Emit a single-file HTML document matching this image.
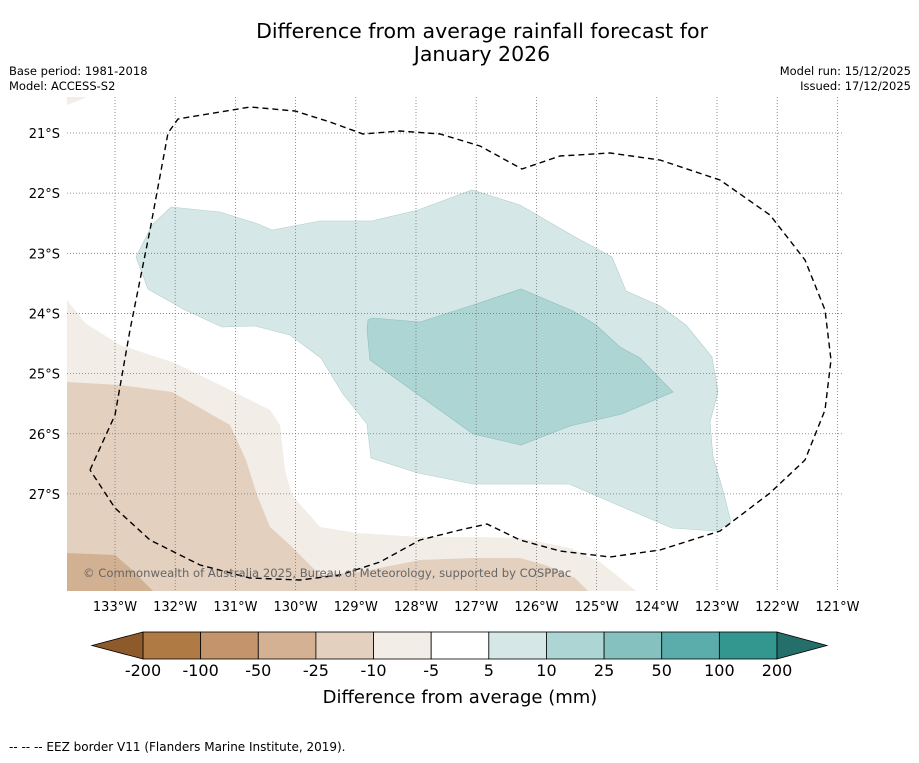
<!DOCTYPE html>
<html><head><meta charset="utf-8"><style>
body{margin:0;background:#fff;font-family:"Liberation Sans","DejaVu Sans",sans-serif}
svg text{font-family:"DejaVu Sans","Liberation Sans",sans-serif}
</style></head><body>
<svg width="919" height="758" viewBox="0 0 919 758">
<text x="482" y="38" font-size="20.5" text-anchor="middle">Difference from average rainfall forecast for</text>
<text x="482" y="61" font-size="20.5" text-anchor="middle">January 2026</text>
<text x="9" y="75" font-size="11.5">Base period: 1981-2018</text>
<text x="9" y="90" font-size="11.5">Model: ACCESS-S2</text>
<text x="911" y="75" font-size="11.5" text-anchor="end">Model run: 15/12/2025</text>
<text x="911" y="90" font-size="11.5" text-anchor="end">Issued: 17/12/2025</text>
<defs><clipPath id="mc"><rect x="67" y="97" width="776" height="494"/></clipPath></defs>
<g clip-path="url(#mc)">
<polygon fill="#f2ede7" points="67,300 85,323 120,345 175,363 220,385 270,410 280,425 285,470 292,495 320,527 357,533 420,537 473,537 520,538 570,548 600,562 620,578 636,591 67,591"/>
<polygon fill="#f2ede7" points="67,97 87,97 67,105"/>
<polygon fill="#e3d0bf" points="67,382 120,385 172,392 230,425 246,460 257,495 270,527 290,545 320,575 360,572 420,560 473,558 520,558 545,565 575,578 588,591 67,591"/>
<polygon fill="#d2b192" points="67,553 115,555 130,568 147,585 153,591 67,591"/>
<polygon fill="#d5e8e7" stroke="#b0cfcd" stroke-width="0.6" points="136,257 152,225 171,207 220,212 258,224 272,230 320,221 372,221 418,210 472,190 520,205 575,237 612,257 626,291 660,306 686,325 712,357 718,392 710,422 713,457 722,487 731,522 716,531 672,528 620,506 569,484 473,484 418,473 371,458 367,424 343,394 321,358 290,335 255,326 222,327 185,310 148,289"/>
<polygon fill="#acd5d4" stroke="#8fbfbd" stroke-width="0.6" points="368,320 372,318 420,322 473,305 521,289 573,311 596,325 620,347 640,358 673,392 622,414 570,426 521,445 473,434 420,396 370,360 367,330"/>
<g id="grid" stroke="#777" stroke-width="0.8" stroke-dasharray="1,2"></g>
<polyline fill="none" stroke="#000" stroke-width="1.4" stroke-dasharray="6,4" points="90,470 115,415 130,330 150,230 168,133 178,119 250,107 295,111 330,122 363,134 400,131 440,134 480,146 522,169 560,156 610,153 660,160 720,180 770,215 805,260 825,310 831,360 825,410 805,460 770,493 720,531 660,550 610,557 560,551 520,540 487,524 460,530 420,540 380,562 340,575 300,580 250,578 200,565 150,540 115,508 90,470"/>
<text x="83" y="577" font-size="11.6" fill="#666">© Commonwealth of Australia 2025, Bureau of Meteorology, supported by COSPPac</text>
</g>
<g id="axes" font-size="13"></g>
<g id="cbar"></g>
<text x="460" y="703" font-size="18" text-anchor="middle">Difference from average (mm)</text>
<text x="9" y="751" font-size="12">--  --  -- EEZ border V11 (Flanders Marine Institute, 2019).</text>
</svg>
<script>
const lons=[133,132,131,130,129,128,127,126,125,124,123,122,121];
const lats=[21,22,23,24,25,26,27];
const levels=["-200","-100","-50","-25","-10","-5","5","10","25","50","100","200"];
const colors=["#b07a45","#c4956c","#d4b193","#e3d0bf","#f2ede7","#ffffff","#d5e8e7","#acd5d4","#84c1bf","#5aadab","#33968f"];
const NS="http://www.w3.org/2000/svg";
const xL=l=>115+(133-l)*60.2, yL=l=>133+(l-21)*60.15;
const grid=document.getElementById('grid'),axes=document.getElementById('axes'),cb=document.getElementById('cbar');
function mk(t,a,p){const e=document.createElementNS(NS,t);for(const k in a)e.setAttribute(k,a[k]);p.appendChild(e);return e;}
lons.forEach(l=>{const e=mk('line',{x1:xL(l),x2:xL(l),y1:97,y2:591},grid);


const t=mk('text',{x:xL(l),y:611,'text-anchor':'middle'},axes);t.textContent=l+'°W';

});
lats.forEach(l=>{const e=mk('line',{x1:67,x2:843,y1:yL(l),y2:yL(l)},grid);


const t=mk('text',{x:60,y:yL(l)+5,'text-anchor':'end'},axes);t.textContent=l+'°S';

});
const x0=143,w=(777-143)/colors.length,y0=632,h=27;
colors.forEach((c,i)=>{const r=mk('rect',{x:x0+i*w,y:y0,width:w,height:h,fill:c,stroke:'#000','stroke-width':0.8},cb);

});
const p1=mk('polygon',{points:`${x0},${y0} 92,${y0+h/2} ${x0},${y0+h}`,fill:'#8e5a2c',stroke:'#000','stroke-width':0.8},cb);


const p2=mk('polygon',{points:`777,${y0} 827,${y0+h/2} 777,${y0+h}`,fill:'#256f6a',stroke:'#000','stroke-width':0.8},cb);


levels.forEach((v,i)=>{const t=mk('text',{x:x0+i*w,y:676,'text-anchor':'middle','font-size':16},cb);t.textContent=v;

});
</script>
</body></html>
